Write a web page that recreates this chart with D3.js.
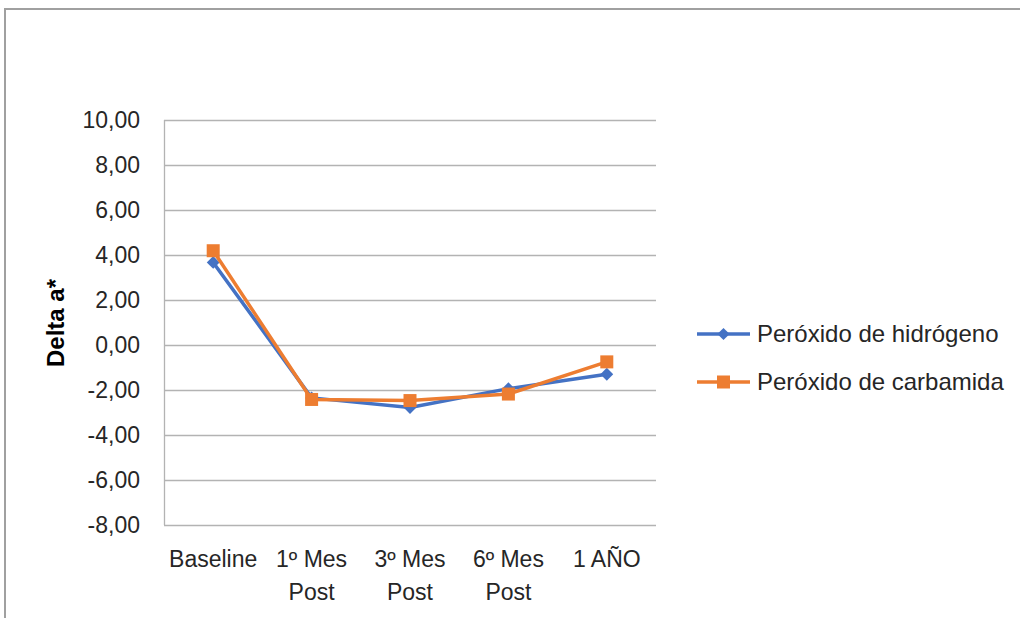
<!DOCTYPE html>
<html><head><meta charset="utf-8">
<script src="https://cdn.jsdelivr.net/npm/d3@7"></script>
<style>body{margin:0;background:#fff}svg{display:block}text{font-family:"Liberation Sans",Arial,sans-serif;fill:#262626}</style>
</head><body>
<svg id="c" width="1020" height="618"></svg>
<script>
const categories = [["Baseline"], ["1º Mes", "Post"], ["3º Mes", "Post"], ["6º Mes", "Post"], ["1 AÑO"]];
const seriesNames = ["Peróxido de hidrógeno", "Peróxido de carbamida"];
const hidrogeno = [3.67, -2.35, -2.78, -1.94, -1.30];
const carbamida = [4.19, -2.42, -2.47, -2.18, -0.75];
const yTicks = [10, 8, 6, 4, 2, 0, -2, -4, -6, -8];
const colors = ["#4472C4", "#ED7D31"];

(function () {
const svg = d3.select("#c");
svg.append("rect").attr("x", 5).attr("y", 9).attr("width", 1030).attr("height", 630)
  .attr("fill", "none").attr("stroke", "#a0a0a0").attr("stroke-width", 2);

const pLeft = 164, pRight = 656, pTop = 120, pBottom = 525;
const x = d3.scaleBand().domain(d3.range(categories.length)).range([pLeft, pRight]);
const y = d3.scaleLinear().domain([-8, 10]).range([pBottom, pTop]);
const diamondType = d3.symbolDiamond2 || d3.symbolDiamond;

svg.append("g").selectAll("line").data(yTicks).join("line")
  .attr("x1", pLeft).attr("x2", pRight)
  .attr("y1", d => Math.round(y(d)) + 0.5).attr("y2", d => Math.round(y(d)) + 0.5)
  .attr("stroke", "#b3b3b3").attr("stroke-width", 1.3);
svg.append("line").attr("x1", pLeft + 0.5).attr("x2", pLeft + 0.5).attr("y1", pTop).attr("y2", pBottom)
  .attr("stroke", "#b3b3b3").attr("stroke-width", 1.3);

const fmt = v => d3.format(".2f")(v).replace(".", ",").replace("−", "-");
svg.append("g").selectAll("text").data(yTicks).join("text")
  .attr("x", 140).attr("y", d => y(d)).attr("dy", "0.35em").attr("text-anchor", "end")
  .style("font-size", "23px").text(fmt);

const xl = svg.append("g").selectAll("text").data(categories).join("text")
  .attr("x", (d, i) => x(i) + x.bandwidth() / 2).attr("y", 567).attr("text-anchor", "middle")
  .style("font-size", "23px");
xl.selectAll("tspan").data(d => d).join("tspan")
  .attr("x", function() { return this.parentNode.getAttribute("x"); })
  .attr("dy", (d, i) => i === 0 ? 0 : 33).text(d => d);

svg.append("text").attr("transform", "translate(64,323) rotate(-90)").attr("text-anchor", "middle")
  .style("font-size", "24px").style("font-weight", "bold").style("fill", "#000").text("Delta a*");

const cx = i => x(i) + x.bandwidth() / 2;
const line = d3.line().x((d, i) => cx(i)).y(d => y(d));

function drawSeries(data, k) {
  svg.append("path").datum(data).attr("d", line).attr("fill", "none")
    .attr("stroke", colors[k]).attr("stroke-width", 3.5).attr("stroke-linejoin", "round");
  const g = svg.append("g");
  if (k === 0) {
    g.selectAll("path").data(data).join("path")
      .attr("transform", (d, i) => `translate(${cx(i)},${y(d)})`)
      .attr("d", d3.symbol().type(diamondType).size(105)).attr("fill", colors[k]);
  } else {
    g.selectAll("rect").data(data).join("rect")
      .attr("x", (d, i) => cx(i) - 6.5).attr("y", d => y(d) - 6.5)
      .attr("width", 13).attr("height", 13).attr("fill", colors[k]);
  }
}
drawSeries(hidrogeno, 0);
drawSeries(carbamida, 1);

const leg = svg.append("g");
seriesNames.forEach((name, k) => {
  const ly = 334 + k * 48;
  leg.append("line").attr("x1", 697).attr("x2", 750).attr("y1", ly).attr("y2", ly)
    .attr("stroke", colors[k]).attr("stroke-width", 3.5);
  if (k === 0) {
    leg.append("path").attr("transform", `translate(723.5,${ly})`)
      .attr("d", d3.symbol().type(diamondType).size(95)).attr("fill", colors[k]);
  } else {
    leg.append("rect").attr("x", 717).attr("y", ly - 6.5).attr("width", 13).attr("height", 13).attr("fill", colors[k]);
  }
  leg.append("text").attr("x", 757).attr("y", ly).attr("dy", "0.35em").style("font-size", "24px").text(name);
});
})();
</script>
</body></html>
